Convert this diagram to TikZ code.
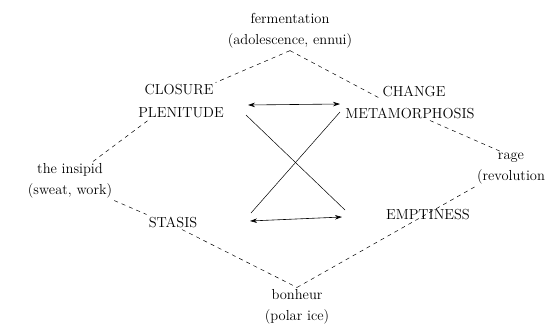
\documentclass[tikz,border=0pt]{standalone}
\usepackage{tikz}
\usetikzlibrary{arrows.meta,positioning,calc}

\begin{document}
\begin{tikzpicture}[x=1pt,y=-1pt,font=\fontsize{14.5}{21}\selectfont,
term/.style={align=center,inner sep=2pt},
link/.style={dash pattern=on 4pt off 4pt,line width=0.5pt},
arr/.style={{Stealth[length=7pt,width=4.5pt]}-{Stealth[length=7pt,width=4.5pt]},line width=0.6pt}]
\useasboundingbox (0,0) rectangle (550,335);
% the eight terms
\node[term] (ferm) at (290,31) {fermentation\\(adolescence, ennui)};
\node[term] (closure) at (179,90) {CLOSURE};
\node[term] (plen) at (181,113) {PLENITUDE};
\node[term] (change) at (414,91) {CHANGE};
\node[term] (meta) at (410,113) {METAMORPHOSIS};
\node[term] (insipid) at (70,181) {the insipid\\(sweat, work)};
\node[term] (rage) at (511,169) {rage\\(revolution};
\node[term] (stasis) at (173,222) {STASIS};
\node[term] (empt) at (428,215) {EMPTINESS};
\node[term] (bonheur) at (297,307) {bonheur\\(polar ice)};
% dashed square
\draw[link] (ferm.south) -- (closure.north east);
\draw[link] (ferm.south) -- (change.south west);
\draw[link] ([xshift=23pt]insipid.north) -- ([xshift=12pt]plen.south west);
\draw[link] (insipid.south east) -- (stasis.north west);
\draw[link] ([xshift=9pt]stasis.south) -- (bonheur.north);
\draw[link] (bonheur.north) -- (rage.south west);
\draw[link] ([xshift=20pt]meta.south) -- ([xshift=-11pt]rage.north);
% cross and arrows
\coordinate (xtl) at (246,115);
\coordinate (xtr) at (340,112);
\coordinate (xbl) at (251,213);
\coordinate (xbr) at (345,210);
\coordinate (ptl) at (248,105);
\coordinate (ptr) at (340,104);
\coordinate (pbl) at (250,221);
\coordinate (pbr) at (342,217);
\draw[line width=0.5pt] (xtl) -- (xbr);
\draw[line width=0.5pt] (xtr) -- (xbl);
\draw[arr] (ptl) -- (ptr);
\draw[arr] (pbl) -- (pbr);
\end{tikzpicture}
\end{document}
